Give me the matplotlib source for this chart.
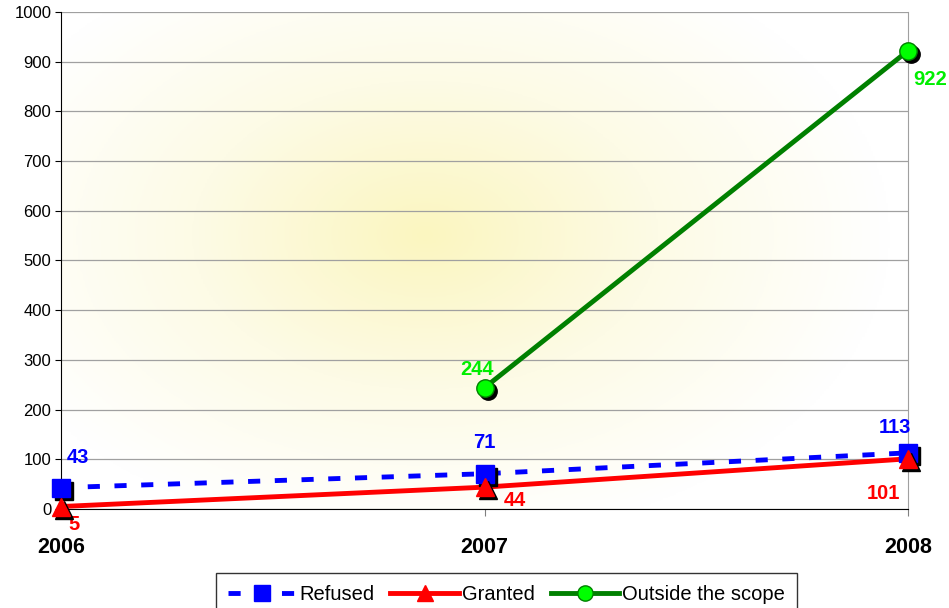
import matplotlib
matplotlib.use("Agg")
import matplotlib.pyplot as plt
import matplotlib.transforms as mtransforms
from matplotlib.colors import LinearSegmentedColormap
import numpy as np

plt.rcParams['font.family'] = ['Liberation Sans', 'DejaVu Sans']

years = ['2006', '2007', '2008']
refused = [43, 71, 113]
granted = [5, 44, 101]
outside_years = [1, 2]
outside = [244, 922]

fig = plt.figure(figsize=(9.49, 6.08), dpi=100)
ax = fig.add_axes([0.0643, 0.1628, 0.8925, 0.8175])

# soft yellow glow behind the plot area
gx, gy = np.meshgrid(np.linspace(0, 1, 400), np.linspace(0, 1, 400))
r = np.sqrt(((gx - 0.43) / 0.55) ** 2 + ((gy - 0.55) / 0.62) ** 2)
glow = np.clip(1 - r, 0, 1)
cmap = LinearSegmentedColormap.from_list('glow', ['#ffffff', '#fdfbe6', '#fbf6c0'])
ax.imshow(glow, extent=[0, 1, 0, 1], transform=ax.transAxes, cmap=cmap,
          aspect='auto', zorder=0, origin='lower')

ax.set_xlim(0, 2)
ax.set_ylim(0, 1000)
ax.set_yticks(range(0, 1001, 100))
ax.set_xticks(range(3))
ax.set_xticklabels(years, fontsize=15.5, fontweight='bold')
ax.tick_params(axis='y', labelsize=12, length=4, direction='out', color='black', pad=3)
ax.tick_params(axis='x', length=5, direction='out', color='#808080', pad=15)
ax.grid(axis='y', color='#a0a0a0', linewidth=0.9, zorder=1)
ax.spines['top'].set_visible(False)
ax.spines['right'].set_color('#a0a0a0')
ax.spines['left'].set_color('black')
ax.spines['bottom'].set_color('black')

shadow = mtransforms.offset_copy(ax.transData, fig=fig, x=3, y=-3, units='dots')
x = [0, 1, 2]

ax.plot(x, refused, color='blue', lw=3.5, ls=(0, (2.5, 3)), zorder=3)
ax.plot(x, granted, color='red', lw=3.5, zorder=3)
ax.plot(outside_years, outside, color='green', lw=3.5, zorder=3)

mk = dict(ms=12.5, clip_on=False, ls='none')
ax.plot(x, refused, marker='s', color='black', transform=shadow, zorder=4, **mk)
ax.plot(x, refused, marker='s', color='blue', zorder=5, **mk)
ax.plot(x, granted, marker='^', color='black', transform=shadow, zorder=6, **mk)
ax.plot(x, granted, marker='^', color='red', zorder=7, **mk)
ax.plot(outside_years, outside, marker='o', color='black', transform=shadow, zorder=4, **mk)
ax.plot(outside_years, outside, marker='o', color='#00ff00', mec='green', mew=1, zorder=5, **mk)

lab = dict(fontsize=14.5, fontweight='bold', textcoords='offset pixels', va='center')
ax.annotate(str(refused[0]), (0, refused[0]), xytext=(6, 30), color='blue', ha='left', **lab)
ax.annotate(str(refused[1]), (1, refused[1]), xytext=(0, 31), color='blue', ha='center', **lab)
ax.annotate(str(refused[2]), (2, refused[2]), xytext=(3, 25), color='blue', ha='right', **lab)
ax.annotate(str(granted[0]), (0, granted[0]), xytext=(7, -18), color='red', ha='left', **lab)
ax.annotate(str(granted[1]), (1, granted[1]), xytext=(19, -13), color='red', ha='left', **lab)
ax.annotate(str(granted[2]), (2, granted[2]), xytext=(-8, -35), color='red', ha='right', **lab)
ax.annotate(str(outside[0]), (1, outside[0]), xytext=(-8, 18), color='#00ee00', ha='center', **lab)
ax.annotate(str(outside[1]), (2, outside[1]), xytext=(5, -29), color='#00ee00', ha='left', **lab)

h1 = plt.Line2D([], [], color='blue', lw=3.5, ls=(0, (2.5, 3)), marker='s', ms=11, markevery=[1])
h2 = plt.Line2D([], [], color='red', lw=3.5, marker='^', ms=11)
h3 = plt.Line2D([], [], color='green', lw=3.5, marker='o', mfc='#00ff00', mec='green', ms=11)
leg = fig.legend([h1, h2, h3], ['Refused', 'Granted', 'Outside the scope'], loc='upper center',
                 bbox_to_anchor=(0.5337, 1 - 573 / 608), ncol=3, fontsize=14.5, frameon=True,
                 fancybox=False, edgecolor='black', handlelength=3.4, columnspacing=0.8,
                 handletextpad=0.15, borderpad=0.6, borderaxespad=0)
leg.get_frame().set_linewidth(1)

fig.savefig('out.png', dpi=100)
